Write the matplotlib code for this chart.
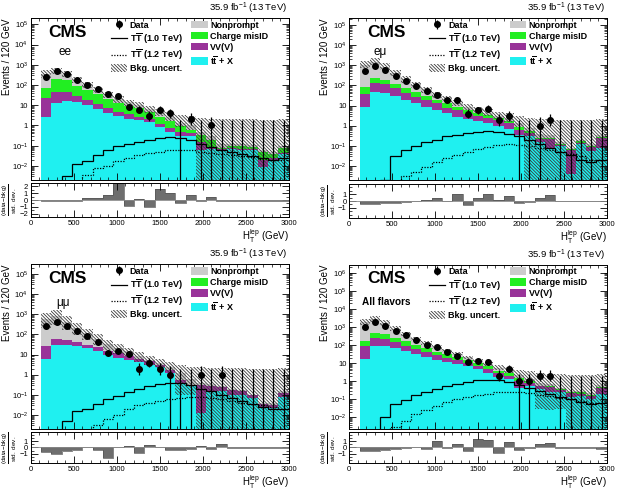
import numpy as np
import matplotlib
matplotlib.use('Agg')
import matplotlib.pyplot as plt
from matplotlib.patches import Patch
from matplotlib.lines import Line2D
from matplotlib.ticker import FixedLocator, MultipleLocator, NullFormatter, LogLocator, FuncFormatter

plt.rcParams['font.family'] = ['Liberation Sans', 'DejaVu Sans']
plt.rcParams['mathtext.fontset'] = 'custom'
plt.rcParams['mathtext.rm'] = 'Liberation Sans'
plt.rcParams['mathtext.it'] = 'Liberation Sans:italic'
plt.rcParams['mathtext.bf'] = 'Liberation Sans:bold'
plt.rcParams['hatch.linewidth'] = 0.6

# bins of 120 GeV from 120 to 3000
bin_edges = list(range(120, 3001, 120))

# ---- ee ----
ee_data = [240, 470, 340, 170, 100, 60, 35, 27, 8, 6, 3, 6, 4, 0, 2, 0, 1, 0, 0, 0, 0, 0, 0, 0]
ee_ttx = [2.6, 12.7, 17, 13.7, 9.7, 6.6, 3.9, 2.8, 2.1, 1.8, 1.4, 0.8, 0.5, 0.3, 0.3, 0.06, 0.07, 0.06, 0.07, 0.06, 0.06, 0.009, 0.02, 0.04]
ee_vv = [21.4, 33.3, 28, 14.3, 8.8, 5.2, 3.1, 1.7, 1.7, 0.8, 0.65, 0.4, 0.25, 0.2, 0.1, 0.1, 0.01, 0.005, 0.005, 0.01, 0.01, 0.011, 0.005, 0.005]
ee_misid = [46, 154, 122, 60, 39.5, 23.2, 14, 8.2, 5.6, 4.4, 2.45, 1.4, 0.85, 0.4, 0.2, 0.19, 0.12, 0.015, 0.025, 0.03, 0.02, 0.03, 0.015, 0.035]
ee_nonprompt = [290, 320, 193, 92, 48, 23, 13, 7.3, 4.6, 3.5, 2.1, 1.8, 1.0, 0.4, 0.4, 0.1, 0.1, 0.04, 0.02, 0.02, 0.02, 0.01, 0.01, 0.02]
ee_unc_up = [200, 170, 120, 60, 35, 20, 12, 7, 5, 3.5, 2.5, 2.0, 1.8, 1.8, 1.8, 1.8, 1.8, 1.9, 1.9, 1.9, 1.9, 1.9, 1.9, 1.9]
ee_unc_dn = [130, 170, 120, 60, 35, 20, 12, 7, 5, 3.5, 2.5, 1.5, 1.0, 0.5, 0.4, 0.45, 0.3, 0.12, 0.12, 0.12, 0.11, 0.06, 0.05, 0.1]
ee_tt10 = [0, 0, 0.003, 0.013, 0.017, 0.035, 0.058, 0.1, 0.12, 0.16, 0.2, 0.25, 0.26, 0.24, 0.18, 0.12, 0.09, 0.06, 0.05, 0.04, 0.03, 0.025, 0.02, 0.025]
ee_tt12 = [0, 0, 0, 0, 0.0035, 0.008, 0.01, 0.017, 0.024, 0.035, 0.043, 0.05, 0.058, 0.058, 0.058, 0.05, 0.045, 0.04, 0.035, 0.03, 0.027, 0.022, 0.02, 0.02]
ee_pull = [-0.2, -0.2, -0.1, -0.1, 0.3, 0.3, 0.8, 2.5, -0.85, 0.15, -0.95, 1.7, 1.1, -0.5, 0.7, -0.2, 0.4, -0.1, -0.1, -0.1, -0.1, -0.1, -0.1, -0.1]

# ---- e mu ----
em_data = [520, 900, 560, 300, 170, 95, 52, 32, 20, 18, 4, 6, 7, 2, 3, 0, 0, 1, 2, 0, 0, 0, 0, 0]
em_ttx = [8.8, 49, 44, 30, 19, 13, 8.8, 6, 4.1, 2.8, 2.1, 1.7, 1.3, 1.0, 0.7, 0.35, 0.3, 0.15, 0.075, 0.1, 0.004, 0.13, 0.057, 0.08]
em_vv = [31, 79, 74, 42, 21, 15, 10, 7, 3.9, 3.2, 1.9, 1.3, 1.0, 0.9, 0.6, 0.25, 0.15, 0.07, 0.145, 0.01, 0.056, 0.01, 0.033, 0.17]
em_misid = [40, 97, 72, 46, 32, 17, 11, 6, 5, 2.8, 2, 1.4, 1.0, 0.4, 0.5, 0.3, 0.1, 0.03, 0.03, 0.01, 0.01, 0.03, 0.01, 0.03]
em_nonprompt = [920, 1275, 670, 282, 128, 60, 34, 17, 9, 5.2, 2.8, 1.6, 1.1, 0.7, 0.4, 0.4, 0.2, 0.15, 0.1, 0.03, 0.01, 0.03, 0.02, 0.07]
em_unc_up = [650, 700, 400, 170, 80, 40, 22, 12, 7, 4.5, 3, 2.3, 2.0, 1.9, 1.9, 1.8, 1.8, 1.8, 1.8, 1.8, 1.8, 1.8, 1.8, 1.8]
em_unc_dn = [300, 450, 260, 120, 60, 32, 19, 11, 6.5, 4, 2.6, 1.8, 1.3, 0.9, 0.65, 0.4, 0.75, 0.4, 0.35, 0.15, 0.08, 0.2, 0.12, 0.35]
em_tt10 = [0, 0, 0.002, 0.03, 0.06, 0.1, 0.15, 0.2, 0.3, 0.35, 0.45, 0.5, 0.55, 0.5, 0.4, 0.3, 0.2, 0.12, 0.08, 0.05, 0.035, 0.02, 0.015, 0.02]
em_tt12 = [0, 0, 0, 0, 0.003, 0.005, 0.009, 0.015, 0.025, 0.035, 0.05, 0.07, 0.09, 0.11, 0.12, 0.11, 0.1, 0.08, 0.06, 0.05, 0.04, 0.03, 0.02, 0.02]
em_pull = [-0.45, -0.45, -0.35, -0.25, -0.1, 0.05, 0.15, 0.45, 0.05, 1.1, -0.6, 0.5, 1.1, 0.2, 0.7, -0.25, -0.1, 0.5, 0.9, -0.05, -0.05, -0.05, -0.05, -0.05]

# ---- mu mu ----
mm_data = [270, 420, 270, 150, 80, 42, 12, 15, 11, 2, 4, 2, 1, 0, 0, 1, 0, 1, 0, 0, 0, 0, 0, 0]
mm_ttx = [6.2, 29, 31, 26, 20, 14.5, 10, 6.7, 5.6, 4.3, 3.1, 2.3, 1.2, 0.4, 0.26, 0.012, 0.15, 0.15, 0.1, 0.1, 0.07, 0.025, 0.022, 0.08]
mm_vv = [19.8, 33, 24, 16, 11, 8.5, 5.6, 5.3, 2.6, 1.9, 1.5, 0.8, 0.6, 0.15, 0.06, 0.29, 0.13, 0.08, 0.08, 0.06, 0.03, 0.01, 0.008, 0.04]
mm_misid = [0] * 24
mm_nonprompt = [524, 738, 365, 168, 82, 39, 19.4, 9, 6.3, 2.0, 1.0, 0.7, 0.5, 0.65, 0.28, 0.1, 0.07, 0.05, 0.02, 0.02, 0.0, 0.005, 0.01, 0.03]
mm_unc_up = [600, 850, 400, 170, 80, 40, 20, 11, 7, 4.5, 3, 2.4, 2.0, 1.9, 1.9, 1.9, 1.9, 1.9, 1.9, 1.9, 1.9, 1.9, 1.9, 1.9]
mm_unc_dn = [350, 500, 250, 120, 60, 32, 18, 10, 6.5, 4, 2.5, 1.6, 1.0, 1.1, 0.5, 0.4, 0.35, 0.28, 0.2, 0.18, 0.1, 0.04, 0.04, 0.15]
mm_tt10 = [0, 0, 0.005, 0.015, 0.02, 0.035, 0.06, 0.09, 0.14, 0.2, 0.28, 0.35, 0.4, 0.38, 0.3, 0.2, 0.15, 0.1, 0.07, 0.05, 0.035, 0.025, 0.02, 0.02]
mm_tt12 = [0, 0, 0, 0, 0, 0.003, 0.006, 0.01, 0.02, 0.03, 0.04, 0.05, 0.06, 0.07, 0.08, 0.08, 0.07, 0.06, 0.05, 0.04, 0.035, 0.03, 0.025, 0.02]
mm_pull = [-0.8, -1.1, -0.6, -0.4, 0.0, -0.35, -1.7, 0.05, 0.3, -0.85, 0.35, 0.0, -0.45, -0.35, -0.2, 0.3, -0.2, 0.5, -0.05, -0.05, -0.05, -0.05, -0.05, -0.05]

# ---- all flavors ----
all_data = [1030, 1790, 1170, 620, 350, 197, 99, 74, 39, 26, 11, 14, 12, 2, 5, 1, 1, 2, 2, 0, 0, 0, 0, 0]
all_ttx = [17.6, 91, 92, 70, 49, 34, 23, 15.5, 11.8, 8.9, 6.6, 4.8, 3.0, 1.7, 1.26, 0.42, 0.52, 0.36, 0.25, 0.26, 0.13, 0.16, 0.10, 0.20]
all_vv = [72, 145, 126, 72, 41, 28.7, 18.7, 14, 8.2, 5.9, 4.05, 2.5, 1.85, 1.25, 0.76, 0.64, 0.29, 0.155, 0.23, 0.08, 0.096, 0.031, 0.046, 0.215]
all_misid = [86, 251, 194, 106, 71.5, 40.2, 25, 14.2, 10.6, 7.2, 4.45, 2.8, 1.85, 0.8, 0.7, 0.49, 0.22, 0.045, 0.055, 0.04, 0.03, 0.06, 0.025, 0.065]
all_nonprompt = [1734, 2333, 1228, 542, 258, 122, 66.4, 33.3, 19.9, 10.7, 5.9, 4.1, 2.6, 1.75, 1.08, 0.6, 0.37, 0.24, 0.14, 0.07, 0.03, 0.045, 0.04, 0.12]
all_unc_up = [900, 1300, 700, 300, 140, 70, 40, 20, 12, 7, 4.5, 3.5, 3.0, 2.5, 2.3, 2.2, 2.1, 2.0, 2.0, 2.0, 2.0, 2.0, 2.0, 2.0]
all_unc_dn = [600, 900, 500, 220, 110, 55, 32, 17, 10, 6, 3.5, 2.5, 2.0, 1.3, 0.9, 0.6, 0.5, 0.77, 0.65, 0.42, 0.29, 0.3, 0.21, 0.6]
all_tt10 = [0, 0, 0.01, 0.058, 0.097, 0.17, 0.27, 0.39, 0.56, 0.71, 0.93, 1.1, 1.21, 1.12, 0.88, 0.62, 0.44, 0.28, 0.2, 0.14, 0.1, 0.07, 0.055, 0.065]
all_tt12 = [0, 0, 0, 0.003, 0.0065, 0.016, 0.025, 0.042, 0.069, 0.1, 0.133, 0.17, 0.21, 0.24, 0.26, 0.24, 0.215, 0.18, 0.145, 0.12, 0.1, 0.082, 0.065, 0.06]
all_pull = [-0.55, -0.6, -0.35, -0.3, -0.15, 0.0, -0.25, 1.0, -0.1, 0.5, -0.6, 1.3, 1.2, -0.9, 0.9, -0.4, -0.1, 0.6, 0.7, -0.05, -0.05, -0.05, -0.05, -0.25]

col_np = '#cccccc'
col_misid = '#22ee22'
col_vv = '#993399'
col_ttx = '#1ff0f0'
hatch_pat = '\\' * 10
floor = 1e-6

edges = np.array(bin_edges, float)
centers = 0.5 * (edges[1:] + edges[:-1])


def log_fmt(v, pos):
    k = int(round(np.log10(v)))
    if k == 0:
        return '1'
    if k == 1:
        return '10'
    return '$10^{%d}$' % k


def draw(ax, axr, data, ttx, vv, misid, nonp, unc_up, unc_dn, tt10, tt12, pull, ylim, pull_ticks):
    c1 = np.array(ttx, float)
    c2 = c1 + np.array(vv)
    c3 = c2 + np.array(misid)
    c4 = c3 + np.array(nonp)
    for top, col in [(c4, col_np), (c3, col_misid), (c2, col_vv), (c1, col_ttx)]:
        ax.stairs(np.clip(top, floor, None), edges, baseline=floor, fill=True, color=col, lw=0)
    hi = c4 + np.array(unc_up)
    lo = np.clip(c4 - np.array(unc_dn), floor, None)
    ax.stairs(hi, edges, baseline=lo, fill=True, facecolor='none', edgecolor='#3a3a3a',
              hatch=hatch_pat, lw=0)
    ax.stairs(np.clip(tt10, floor, None), edges, baseline=None, color='k', lw=0.9)
    ax.stairs(np.clip(tt12, floor, None), edges, baseline=None, color='k', lw=0.9, ls=(0, (1, 1.2)))

    d = np.array(data, float)
    nz = d > 0
    e_hi = 0.5 + np.sqrt(d + 0.25)
    e_lo = np.sqrt(d + 0.25) - 0.5
    e_lo = np.where(d == 1, d - floor, e_lo)
    eb = ax.errorbar(centers[nz], d[nz], yerr=[e_lo[nz], e_hi[nz]], fmt='o', color='k',
                     ms=4, elinewidth=0.9, capsize=0)
    ax.vlines(centers[~nz], floor, 1.84, color='k', lw=0.9)

    ax.set_yscale('log')
    ax.set_xlim(0, 3000)
    ax.set_ylim(ylim)
    decs = [10.0 ** k for k in range(-2, 8) if ylim[0] <= 10.0 ** k <= ylim[1]]
    ax.yaxis.set_major_locator(FixedLocator(decs))
    ax.yaxis.set_major_formatter(FuncFormatter(log_fmt))
    ax.yaxis.set_minor_locator(LogLocator(base=10, subs=np.arange(2, 10), numticks=30))
    ax.yaxis.set_minor_formatter(NullFormatter())
    for a in (ax, axr):
        a.xaxis.set_major_locator(MultipleLocator(500))
        a.xaxis.set_minor_locator(MultipleLocator(100))
        a.tick_params(which='both', direction='in', top=True, right=True, labelsize=5.5, pad=2)
        a.tick_params(which='major', length=5, width=0.6)
        a.tick_params(which='minor', length=2.5, width=0.5)
        for s in a.spines.values():
            s.set_linewidth(0.7)
    ax.tick_params(labelbottom=False)
    ax.set_ylabel('Events / 120 GeV', fontsize=7, loc='top')
    ax.yaxis.set_label_coords(-0.074, 1.0)

    axr.axhline(0, color='#888888', lw=0.6)
    axr.stairs(pull, edges, baseline=0, fill=True, color='#6e6e6e', lw=0)
    axr.stairs(pull, edges, baseline=0, color='#555555', lw=0.5)
    axr.set_xlim(0, 3000)
    axr.set_ylim(-2.5, 2.5)
    axr.yaxis.set_major_locator(FixedLocator(pull_ticks))
    axr.yaxis.set_minor_locator(MultipleLocator(0.5))
    axr.set_ylabel(r'$\frac{\mathrm{(data\!-\!bkg)}}{\mathrm{std.\ dev.}}$', fontsize=6.5)
    axr.yaxis.set_label_coords(-0.044, 0.5)
    axr.set_xlabel(r'H$_\mathrm{T}^\mathrm{lep}$ (GeV)', fontsize=7, loc='right', labelpad=0)

    ax.text(0.995, 1.012, r'35.9 fb$^{-1}$ (13 TeV)', transform=ax.transAxes, ha='right',
            va='bottom', fontsize=6.8)
    ax.text(0.068, 0.96, 'CMS', transform=ax.transAxes, ha='left', va='top',
            fontsize=12.5, fontweight='bold')

    handles = [eb,
               Line2D([], [], color='k', lw=0.9),
               Line2D([], [], color='k', lw=0.9, ls=(0, (1, 1.2))),
               Patch(facecolor='white', edgecolor='#3a3a3a', hatch=hatch_pat, lw=0),
               Patch(facecolor=col_np), Patch(facecolor=col_misid),
               Patch(facecolor=col_vv), Patch(facecolor=col_ttx)]
    labels = ['Data', r'T$\overline{\mathbf{T}}$ (1.0 TeV)', r'T$\overline{\mathbf{T}}$ (1.2 TeV)',
              'Bkg. uncert.', 'Nonprompt', 'Charge misID', 'VV(V)', r't$\overline{\mathbf{t}}$ + X']
    ax.legend(handles, labels, ncol=2, loc='upper left', bbox_to_anchor=(0.31, 0.985),
              frameon=False, prop={'weight': 'bold', 'size': 6.5}, handlelength=1.8,
              handleheight=0.95, handletextpad=0.3, labelspacing=0.22, columnspacing=1.0,
              borderpad=0, borderaxespad=0)


fig = plt.figure(figsize=(6.18, 4.90), dpi=100)
ax1 = fig.add_axes([0.0497, 0.6327, 0.4175, 0.330])
ax1r = fig.add_axes([0.0497, 0.557, 0.4175, 0.0694])
ax2 = fig.add_axes([0.5652, 0.6327, 0.4165, 0.330])
ax2r = fig.add_axes([0.5652, 0.555, 0.4165, 0.0694])
ax3 = fig.add_axes([0.0497, 0.1245, 0.4175, 0.336])
ax3r = fig.add_axes([0.0497, 0.0551, 0.4175, 0.0633])
ax4 = fig.add_axes([0.5652, 0.1245, 0.4165, 0.335])
ax4r = fig.add_axes([0.5652, 0.0551, 0.4165, 0.0633])

draw(ax1, ax1r, ee_data, ee_ttx, ee_vv, ee_misid, ee_nonprompt, ee_unc_up, ee_unc_dn,
     ee_tt10, ee_tt12, ee_pull, (2e-3, 2e5), [-2, -1, 0, 1, 2])
draw(ax2, ax2r, em_data, em_ttx, em_vv, em_misid, em_nonprompt, em_unc_up, em_unc_dn,
     em_tt10, em_tt12, em_pull, (2e-3, 2.2e5), [-1, 0, 1])
draw(ax3, ax3r, mm_data, mm_ttx, mm_vv, mm_misid, mm_nonprompt, mm_unc_up, mm_unc_dn,
     mm_tt10, mm_tt12, mm_pull, (2e-3, 3e5), [-1, 0, 1])
draw(ax4, ax4r, all_data, all_ttx, all_vv, all_misid, all_nonprompt, all_unc_up, all_unc_dn,
     all_tt10, all_tt12, all_pull, (2.3e-3, 2.7e6), [-1, 0, 1])

ax1.text(0.133, 0.79, 'ee', transform=ax1.transAxes, ha='center', va='center', fontsize=8.5)
ax2.text(0.121, 0.79, 'e\u03bc', transform=ax2.transAxes, ha='center', va='center', fontsize=8.5)
ax3.text(0.125, 0.763, '\u03bc\u03bc', transform=ax3.transAxes, ha='center', va='center', fontsize=8.5)
ax4.text(0.048, 0.776, 'All flavors', transform=ax4.transAxes, ha='left', va='center',
         fontsize=7.2, fontweight='bold')

fig.savefig('out.png', dpi=100)
